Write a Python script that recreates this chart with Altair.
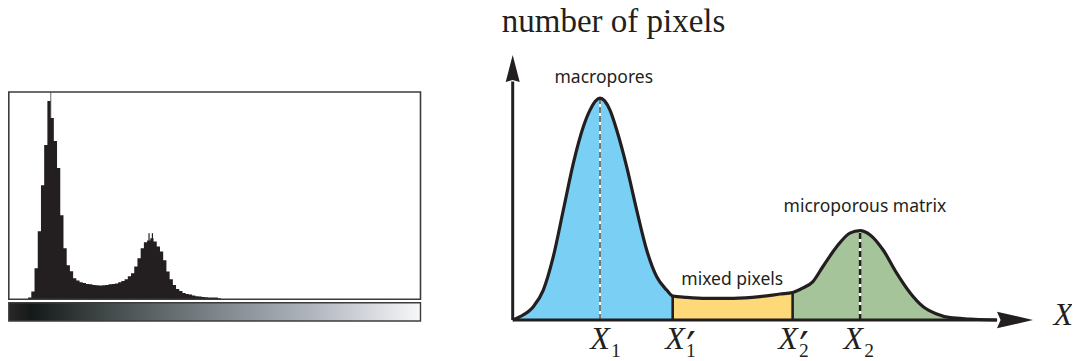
import altair as alt
import pandas as pd

# ---------------- data: left panel (grey-level histogram) ----------------
hist_first_level = 12          # first non-empty grey level (0..255 scale)
hist_bin_width = 2             # grey levels per bar
hist_counts = [1.7, 7.7, 31, 68, 114, 154, 198, 181, 158, 131, 84, 51, 34, 28, 21,
               18.7, 17, 16.3, 15.3, 15, 14.3, 14, 13.7, 14, 14.3, 15, 15.3, 15.7, 17, 18.3,
               20, 23, 26, 32.7, 41, 51, 57, 58.7, 61, 57.7, 52.7, 47.7, 39, 27.7, 20,
               14.3, 10.3, 8.3, 6.3, 5.3, 4.7, 3.7, 3, 2.7, 2.3, 2, 1.7, 1.7, 1.7, 1]
hist_max = 207
spike_levels = [26.1]
spike_tops = [207]
spike2_levels = [87.2, 89.3]
spike2_tops = [66, 66]
grad_offsets = [0.0, 0.055, 0.25, 0.5, 0.75, 0.9, 1.0]
grad_colors = ["#2a2627", "#141a19", "#454c4c", "#7d848a", "#b4b9c1", "#dcdee3", "#f8f8f9"]

# ---------------- data: right panel (schematic histogram) ----------------
curve_u = [0, 1.4, 3.96, 5.88, 7.8, 9.73, 11.65, 13.57, 14.85, 16.78, 18.7, 19.99, 21.9,
           23.83, 25.75, 27.68, 29.6, 30.75, 33.44, 37.29, 42.4, 47.53, 51.37, 53.8, 55.8,
           57.7, 59.6, 62.3, 64.8, 66.77, 68.7, 71.2, 73.8, 76.4, 78.9, 81.5, 84.1, 87.9,
           91.1, 93]
curve_v = [0, 1.25, 5.0, 11.3, 23.9, 41.5, 59.1, 72.9, 79.2, 83.7, 79.2, 71.7, 57.9, 41.5,
           26.4, 16.3, 11.3, 9.06, 8.55, 8.18, 8.18, 8.8, 9.8, 10.4, 12.1, 14.5, 20.1, 27.7,
           32.8, 33.7, 32.1, 26.4, 17.7, 10.2, 5.0, 2.26, 0.87, 0.38, 0.1, 0]
X1, X1p, X2p, X2 = 16.78, 30.75, 53.8, 66.77
peak1, peak2 = 83.7, 33.7
bound1_h, bound2_h = 9.06, 10.4
regions = ["macropores", "mixed pixels", "microporous matrix"]
region_colors = ["#79cff4", "#fdd97a", "#a5c49a"]

label_texts = ["macropores", "mixed pixels", "microporous matrix"]
label_u = [17.5, 42.2, 67.7]
label_v = [89.4, 13.2, 40.6]

tick_main = ["X", "X", "X", "X"]
tick_sub = ["1", "1", "2", "2"]
tick_prime = ["", "\u2032", "\u2032", ""]
tick_u = [16.78, 31.19, 52.91, 65.46]
tick_v = -10.94
sub_v = -14.15
prime_v = -15.85

axis_label = "X"
axis_label_u, axis_label_v = 105.8, -1.89
title_text = "number of pixels"
title_u, title_v = -2.11, 108.6

yaxis_top, xaxis_right = 90.0, 93.1
yarrow_center, xarrow_center = 94.9, 96.54

INK = "#231f20"

# ---------------- scales ----------------
def S(domain, rng):
    return alt.Scale(domain=domain, range=rng, nice=False, zero=False)

LX = lambda: S([0, 256], [0.8, 412.5])
LY = lambda: S([0, hist_max], [291.3, 84])
GY = lambda: S([0, 1], [313, 294.7])
RX = lambda: S([0, 100], [504.7, 1025])
RY = lambda: S([0, 100], [312, 47])

def lx(f): return alt.X(f, type="quantitative", scale=LX(), axis=None)
def ly(f): return alt.Y(f, type="quantitative", scale=LY(), axis=None)
def rx(f): return alt.X(f, type="quantitative", scale=RX(), axis=None)
def ry(f): return alt.Y(f, type="quantitative", scale=RY(), axis=None)

# ---------------- left panel layers ----------------
n = len(hist_counts)
hist_df = pd.DataFrame({
    "lvl": [hist_first_level + hist_bin_width * i for i in range(n + 1)],
    "count": hist_counts + [hist_counts[-1]],
    "base": [0] * (n + 1),
})
spike_df = pd.DataFrame({"lvl": spike_levels, "top": spike_tops, "base": [0] * len(spike_levels)})
spike2_df = pd.DataFrame({"lvl": spike2_levels, "top": spike2_tops, "base": [0] * len(spike2_levels)})
box_df = pd.DataFrame({"x0": [0], "x1": [256], "y0": [0], "y1": [hist_max]})
bar_df = pd.DataFrame({"x0": [0], "x1": [256], "y0": [0], "y1": [1]})

spike = alt.Chart(spike_df).mark_rule(color="#6a6a6a", strokeWidth=1).encode(
    x=lx("lvl"), y=ly("base"), y2="top")
spike2 = alt.Chart(spike2_df).mark_rule(color=INK, strokeWidth=1.2).encode(
    x=lx("lvl"), y=ly("base"), y2="top")
bars = alt.Chart(hist_df).mark_area(interpolate="step-after", color=INK, opacity=1).encode(
    x=lx("lvl"), y=ly("count"), y2="base")
box = alt.Chart(box_df).mark_rect(fillOpacity=0, stroke="#3c3c3c", strokeWidth=1.6).encode(
    x=lx("x0"), x2="x1", y=ly("y0"), y2="y1")
gradient = alt.LinearGradient(
    gradient="linear", x1=0, x2=1, y1=0, y2=0,
    stops=[alt.GradientStop(color=c, offset=o) for c, o in zip(grad_colors, grad_offsets)])
gbar = alt.Chart(bar_df).mark_rect(fill=gradient, stroke="#3c3c3c", strokeWidth=1.4).encode(
    x=lx("x0"), x2="x1",
    y=alt.Y("y0", type="quantitative", scale=GY(), axis=None), y2="y1")

# ---------------- right panel layers ----------------
rows = []
bounds = [(0, X1p), (X1p, X2p), (X2p, 100)]
for reg, (a, b) in zip(regions, bounds):
    for u, v in zip(curve_u, curve_v):
        if a <= u <= b:
            rows.append({"u": u, "v": v, "base": 0, "region": reg})
area_df = pd.DataFrame(rows)
curve_df = pd.DataFrame({"u": curve_u, "v": curve_v})

areas = alt.Chart(area_df).mark_area(interpolate="monotone", opacity=1).encode(
    x=rx("u"), y=ry("v"), y2="base",
    color=alt.Color("region:N", scale=alt.Scale(domain=regions, range=region_colors), legend=None))

peaks_df = pd.DataFrame({"u": [X1, X2], "top": [peak1, peak2], "base": [0, 0]})
dash_white = alt.Chart(peaks_df).mark_rule(color="white", strokeWidth=2).encode(
    x=rx("u"), y=ry("base"), y2="top")
dash1 = alt.Chart(peaks_df.iloc[[0]]).mark_rule(color="#4a4a4a", strokeWidth=1.5, strokeDash=[6, 3]).encode(
    x=rx("u"), y=ry("base"), y2="top")
dash2 = alt.Chart(peaks_df.iloc[[1]]).mark_rule(color=INK, strokeWidth=2.5, strokeDash=[6, 3]).encode(
    x=rx("u"), y=ry("base"), y2="top")

bound_df = pd.DataFrame({"u": [X1p, X2p], "top": [bound1_h, bound2_h], "base": [0, 0]})
bounds_l = alt.Chart(bound_df).mark_rule(color=INK, strokeWidth=2.6).encode(
    x=rx("u"), y=ry("base"), y2="top")

curve = alt.Chart(curve_df).mark_line(interpolate="monotone", color=INK, strokeWidth=3.2,
                                       strokeJoin="round").encode(x=rx("u"), y=ry("v"))

yaxis_df = pd.DataFrame({"u": [0], "v0": [0], "v1": [yaxis_top]})
xaxis_df = pd.DataFrame({"u0": [0], "u1": [xaxis_right], "v": [0]})
yaxis = alt.Chart(yaxis_df).mark_rule(color=INK, strokeWidth=3).encode(
    x=rx("u"), y=ry("v0"), y2="v1")
xaxis = alt.Chart(xaxis_df).mark_rule(color=INK, strokeWidth=3).encode(
    x=rx("u0"), x2="u1", y=ry("v"))
yarrow = alt.Chart(pd.DataFrame({"u": [0], "v": [yarrow_center]})).mark_point(
    shape="M0,-1L-0.52,1L0,0.85L0.52,1Z", filled=True, size=729, color=INK, opacity=1,
    strokeWidth=0).encode(x=rx("u"), y=ry("v"))
xarrow = alt.Chart(pd.DataFrame({"u": [xarrow_center], "v": [0]})).mark_point(
    shape="M1,0L-1,-0.46L-0.8,0L-1,0.46Z", filled=True, size=1296, color=INK, opacity=1,
    strokeWidth=0).encode(x=rx("u"), y=ry("v"))

labels = alt.Chart(pd.DataFrame({"t": label_texts, "u": label_u, "v": label_v})).mark_text(
    font="Noto Sans", fontSize=17.5, align="center", baseline="alphabetic", color=INK).encode(
    x=rx("u"), y=ry("v"), text="t:N")

ticks_df = pd.DataFrame({"main": tick_main, "sub": tick_sub, "prime": tick_prime, "u": tick_u,
                         "v": [tick_v] * 4, "sv": [sub_v] * 4, "pv": [prime_v] * 4})
tick_x = alt.Chart(ticks_df).mark_text(
    font="Liberation Serif", fontStyle="italic", fontSize=32, align="center",
    baseline="alphabetic", color=INK).encode(x=rx("u"), y=ry("v"), text="main:N")
tick_s = alt.Chart(ticks_df).mark_text(
    font="Liberation Serif", fontSize=19.5, align="left", baseline="alphabetic",
    color=INK, dx=11).encode(x=rx("u"), y=ry("sv"), text="sub:N")
tick_p = alt.Chart(ticks_df).mark_text(
    font="DejaVu Serif", fontSize=42, align="center", baseline="alphabetic",
    color=INK, dx=16).encode(x=rx("u"), y=ry("pv"), text="prime:N")

axis_lab = alt.Chart(pd.DataFrame({"t": [axis_label], "u": [axis_label_u], "v": [axis_label_v]})).mark_text(
    font="Liberation Serif", fontStyle="italic", fontSize=32, align="center",
    baseline="alphabetic", color=INK).encode(x=rx("u"), y=ry("v"), text="t:N")
title = alt.Chart(pd.DataFrame({"t": [title_text], "u": [title_u], "v": [title_v]})).mark_text(
    font="Liberation Serif", fontSize=33, align="left", baseline="alphabetic", color=INK).encode(
    x=rx("u"), y=ry("v"), text="t:N")

chart = alt.layer(
    spike, spike2, bars, box, gbar,
    areas, dash_white, dash1, dash2, bounds_l, curve, yaxis, xaxis, yarrow, xarrow,
    labels, tick_x, tick_s, tick_p, axis_lab, title,
).resolve_scale(x="independent", y="independent", color="independent").properties(
    width=1064, height=353, autosize=alt.AutoSizeParams(type="none"), padding=0,
).configure_view(stroke=None)

chart.save("out.html", embed_options={"renderer": "svg", "actions": False})
